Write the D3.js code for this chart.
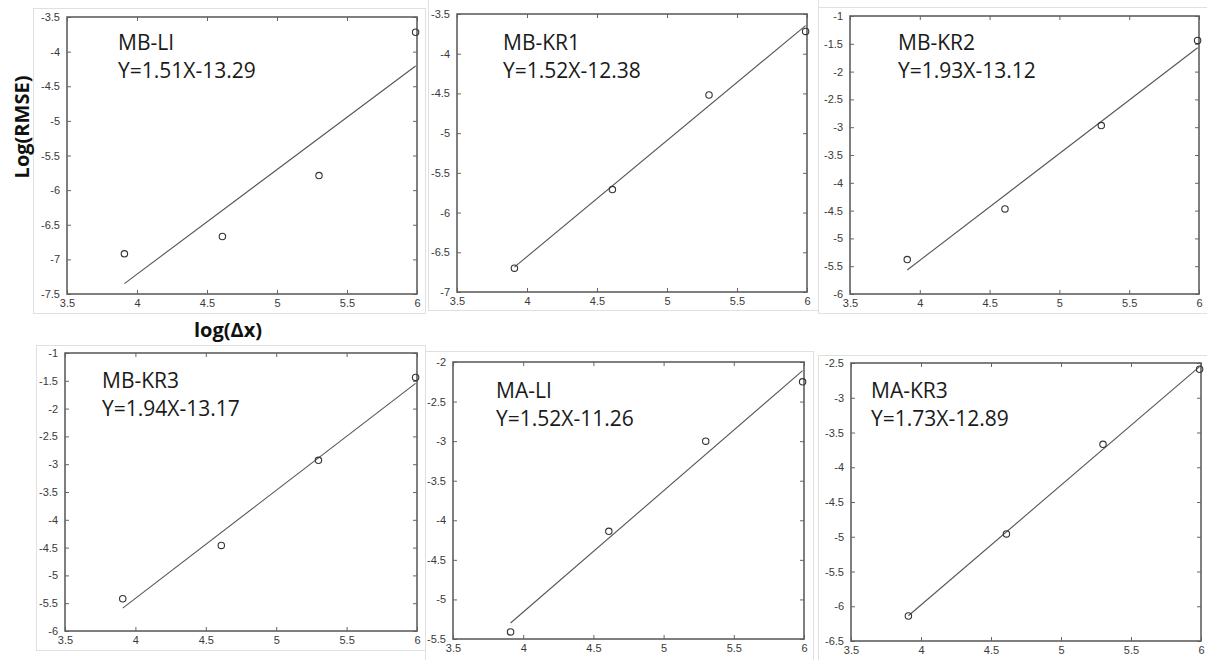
<!DOCTYPE html>
<html>
<head>
<meta charset="utf-8">
<script src="https://cdn.jsdelivr.net/npm/d3@7"></script>
<style>
    body { margin: 0; background: #fff; }
    svg { display: block; }
</style>
</head>
<body>
<svg id="chart" width="1207" height="660"></svg>
<script>
// data //
const panelNames = ['MB-LI', 'MB-KR1', 'MB-KR2', 'MB-KR3', 'MA-LI', 'MA-KR3']
const equations = ['Y=1.51X-13.29', 'Y=1.52X-12.38', 'Y=1.93X-13.12', 'Y=1.94X-13.17', 'Y=1.52X-11.26', 'Y=1.73X-12.89']
const logDx = [3.91, 4.61, 5.30, 5.99]
const rmseMBLI = [-6.92, -6.67, -5.79, -3.72]
const rmseMBKR1 = [-6.70, -5.71, -4.52, -3.72]
const rmseMBKR2 = [-5.38, -4.47, -2.97, -1.44]
const rmseMBKR3 = [-5.42, -4.46, -2.93, -1.44]
const rmseMALI = [-5.41, -4.14, -3.00, -2.25]
const rmseMAKR3 = [-6.14, -4.96, -3.67, -2.59]
const xDomain = [3.5, 6]
const yDomains = [[-7.5, -3.5], [-7, -3.5], [-6, -1], [-6, -1], [-5.5, -2], [-6.5, -2.5]]
const xTicks = [3.5, 4, 4.5, 5, 5.5, 6]

const series = [rmseMBLI, rmseMBKR1, rmseMBKR2, rmseMBKR3, rmseMALI, rmseMAKR3]

// layout of each subplot (pixels) //
const frames = [
    { l: 67, t: 17, r: 417, b: 294, tx: 51, ty: 50, box: [33, 8, 425, 313] },
    { l: 457, t: 14, r: 807, b: 292, tx: 46, ty: 50, box: [428, -2, 818, 310] },
    { l: 850, t: 16, r: 1199, b: 294, tx: 48, ty: 50, box: [818, 7, 1210, 313] },
    { l: 65, t: 353, r: 417, b: 631, tx: 37, ty: 388, box: [36, 345, 425, 650] },
    { l: 453, t: 362, r: 804, b: 639, tx: 43, ty: 398, box: [425, 351, 813, 665] },
    { l: 851, t: 363, r: 1201, b: 641, tx: 20, ty: 398, box: [818, 355, 1210, 665] }
]

const svg = d3.select('#chart')
const fmt = d => String(d)

/**
 * least squares line through the points
 */
function fitLine(xs, ys) {
    const mx = d3.mean(xs)
    const my = d3.mean(ys)
    const sxy = d3.sum(xs, (x, i) => (x - mx) * (ys[i] - my))
    const sxx = d3.sum(xs, x => (x - mx) * (x - mx))
    const slope = sxy / sxx
    return { slope: slope, icpt: my - slope * mx }
}

function drawPanel(i) {
    const f = frames[i]
    const ys = series[i]
    const pts = logDx.map((x, j) => ({ x: x, y: ys[j] }))

    // light outer box of the figure //
    svg.append('rect')
        .attr('x', f.box[0] + 0.5)
        .attr('y', f.box[1] + 0.5)
        .attr('width', f.box[2] - f.box[0])
        .attr('height', f.box[3] - f.box[1])
        .attr('fill', 'none')
        .attr('stroke', '#e0e0e0')

    // scales //
    const xScale = d3.scaleLinear().domain(xDomain).range([f.l, f.r])
    const yScale = d3.scaleLinear().domain(yDomains[i]).range([f.b, f.t])
    const yTicks = d3.range(yDomains[i][0], yDomains[i][1] + 0.01, 0.5)

    const g = svg.append('g')

    // axes, MATLAB style ticks pointing inside //
    g.append('g')
        .attr('transform', `translate(0, ${f.b})`)
        .call(d3.axisBottom(xScale).tickValues(xTicks).tickFormat(fmt).tickSize(-4).tickPadding(5))
    g.append('g')
        .attr('transform', `translate(0, ${f.t})`)
        .call(d3.axisTop(xScale).tickValues(xTicks).tickFormat('').tickSize(-4))
    g.append('g')
        .attr('transform', `translate(${f.l}, 0)`)
        .call(d3.axisLeft(yScale).tickValues(yTicks).tickFormat(fmt).tickSize(-4).tickPadding(7))
    g.append('g')
        .attr('transform', `translate(${f.r}, 0)`)
        .call(d3.axisRight(yScale).tickValues(yTicks).tickFormat('').tickSize(-4))

    g.selectAll('.domain').remove()
    g.selectAll('.tick line').attr('stroke', '#666')
    g.selectAll('.tick text')
        .attr('fill', '#3a3a3a')
        .style('font-family', '"Liberation Sans", Arial, sans-serif')
        .style('font-size', '11px')

    // frame //
    g.append('rect')
        .attr('x', f.l)
        .attr('y', f.t)
        .attr('width', f.r - f.l)
        .attr('height', f.b - f.t)
        .attr('fill', 'none')
        .attr('stroke', '#606060')
        .attr('stroke-width', 1.6)

    // fitted line //
    const fit = fitLine(logDx, ys)
    const ends = d3.extent(logDx)
    const line = d3.line()
        .x(d => xScale(d))
        .y(d => yScale(fit.slope * d + fit.icpt))
    g.append('path')
        .attr('d', line(ends))
        .attr('fill', 'none')
        .attr('stroke', '#555')
        .attr('stroke-width', 1.1)

    // points //
    g.selectAll('circle')
        .data(pts)
        .join('circle')
        .attr('cx', d => xScale(d.x))
        .attr('cy', d => yScale(d.y))
        .attr('r', 3.2)
        .attr('fill', 'none')
        .attr('stroke', '#333')
        .attr('stroke-width', 1.1)

    // label //
    const label = svg.append('text')
        .attr('x', f.l + f.tx)
        .attr('y', f.ty)
        .style('font-family', '"Open Sans", sans-serif')
        .style('font-size', '21px')
        .attr('fill', '#1a1a1a')
    label.append('tspan').attr('x', f.l + f.tx).text(panelNames[i])
    label.append('tspan').attr('x', f.l + f.tx).attr('dy', 28).text(equations[i])
}

panelNames.forEach((n, i) => drawPanel(i))

// shared axis titles //
svg.append('text')
    .attr('transform', 'translate(29, 127) rotate(-90)')
    .attr('text-anchor', 'middle')
    .style('font-family', '"Open Sans", sans-serif')
    .style('font-size', '20px')
    .style('font-weight', 'bold')
    .attr('fill', '#111')
    .text('Log(RMSE)')

svg.append('text')
    .attr('x', 228)
    .attr('y', 337)
    .attr('text-anchor', 'middle')
    .style('font-family', '"Open Sans", sans-serif')
    .style('font-size', '20px')
    .style('font-weight', 'bold')
    .attr('fill', '#111')
    .text('log(\u0394x)')
</script>
</body>
</html>
